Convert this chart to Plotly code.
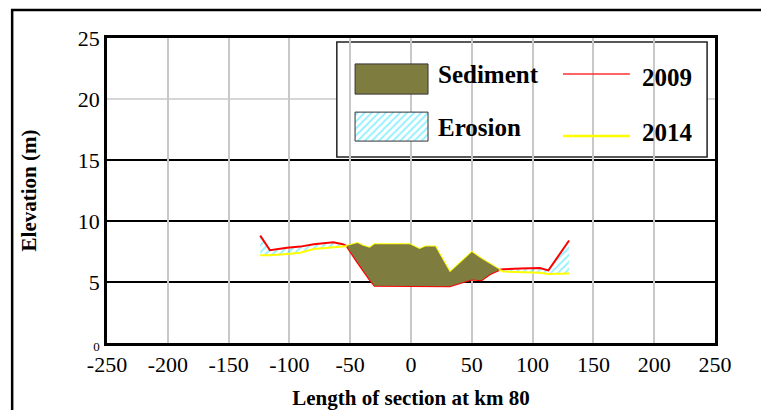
import plotly.graph_objects as go

# Cross-section stations (m from centreline) and bed elevations (m)
station = [-124, -116, -102, -91, -80, -64, -56, -53, -44, -40, -34, -30, -1, 7, 12, 20,
           32, 43, 50, 58, 65, 73, 76, 90, 106, 113, 130]
elev_2009 = [8.8, 7.6, 7.8, 7.9, 8.1, 8.25, 8.1, 7.95, 6.6, 6.0, 5.2, 4.7, 4.65, 4.65, 4.65, 4.65,
             4.65, 5.0, 5.2, 5.15, 5.65, 6.0, 6.05, 6.1, 6.15, 5.95, 8.4]
elev_2014 = [7.2, 7.2, 7.3, 7.4, 7.7, 7.8, 7.9, 7.95, 8.2, 8.0, 7.8, 8.1, 8.1, 7.7, 7.9, 7.9,
             5.8, 6.8, 7.45, 6.9, 6.45, 6.0, 5.85, 5.8, 5.75, 5.65, 5.7]

x_ticks = [-250, -200, -150, -100, -50, 0, 50, 100, 150, 200, 250]
y_ticks = [0, 5, 10, 15, 20, 25]
dark_grid = [5, 10, 15]
light_grid = [20]

SERIF = "Liberation Serif"
OLIVE = "#7f7c40"
CYAN = "#1fe3ff"


def runs(mask):
    """Contiguous index ranges where mask is True (inclusive)."""
    out, start = [], None
    for i, m in enumerate(mask):
        if m and start is None:
            start = i
        if not m and start is not None:
            out.append((start, i - 1))
            start = None
    if start is not None:
        out.append((start, len(mask) - 1))
    return out


fig = go.Figure()

# Erosion: 2014 bed below 2009 bed
erosion_mask = [b <= a for a, b in zip(elev_2009, elev_2014)]
for s, e in runs(erosion_mask):
    xs = station[s:e + 1]
    fig.add_trace(go.Scatter(x=xs, y=elev_2014[s:e + 1], mode="lines",
                             line=dict(width=0), showlegend=False, hoverinfo="skip"))
    fig.add_trace(go.Scatter(x=xs, y=elev_2009[s:e + 1], mode="lines", fill="tonexty",
                             line=dict(width=0), fillcolor="rgba(0,0,0,0)",
                             fillpattern=dict(shape="/", fgcolor=CYAN, bgcolor="rgba(0,0,0,0)",
                                              size=5, solidity=0.35),
                             showlegend=False, hoverinfo="skip"))

# Bed profiles
fig.add_trace(go.Scatter(x=station, y=elev_2009, mode="lines", name="2009",
                         line=dict(color="#ff0000", width=2), showlegend=False))
fig.add_trace(go.Scatter(x=station, y=elev_2014, mode="lines", name="2014",
                         line=dict(color="#ffff00", width=2), showlegend=False))

# Sediment: 2014 bed above 2009 bed
sediment_mask = [b >= a for a, b in zip(elev_2009, elev_2014)]
for s, e in runs(sediment_mask):
    xs = station[s:e + 1]
    if len(xs) < 2:
        continue
    fig.add_trace(go.Scatter(x=xs, y=elev_2009[s:e + 1], mode="lines",
                             line=dict(width=0), showlegend=False, hoverinfo="skip"))
    fig.add_trace(go.Scatter(x=xs, y=elev_2014[s:e + 1], mode="lines", fill="tonexty",
                             line=dict(width=0), fillcolor=OLIVE,
                             showlegend=False, hoverinfo="skip"))

# Legend drawn on an overlay axis spanning the plot area in 0..1 units
fig.add_trace(go.Scatter(x=[0.408, 0.528, 0.528, 0.408, 0.408],
                         y=[0.662, 0.662, 0.757, 0.757, 0.662],
                         xaxis="x2", yaxis="y2", mode="lines", fill="toself",
                         fillcolor="rgba(0,0,0,0)",
                         fillpattern=dict(shape="/", fgcolor=CYAN, bgcolor="white",
                                          size=5, solidity=0.35),
                         line=dict(color="#333333", width=1),
                         showlegend=False, hoverinfo="skip"))
fig.add_trace(go.Scatter(x=[0.750, 0.860], y=[0.882, 0.882], xaxis="x2", yaxis="y2",
                         mode="lines", line=dict(color="#ff3030", width=1.5),
                         showlegend=False, hoverinfo="skip"))
fig.add_trace(go.Scatter(x=[0.750, 0.860], y=[0.679, 0.679], xaxis="x2", yaxis="y2",
                         mode="lines", line=dict(color="#ffff00", width=2.5),
                         showlegend=False, hoverinfo="skip"))

shapes = []
# horizontal grid: dark at 5/10/15, light at 20
for yv in dark_grid:
    shapes.append(dict(type="line", xref="paper", yref="y", x0=0, x1=1, y0=yv, y1=yv,
                       line=dict(color="black", width=2), layer="between"))
for yv in light_grid:
    shapes.append(dict(type="line", xref="paper", yref="y", x0=0, x1=1, y0=yv, y1=yv,
                       line=dict(color="#c8c8c8", width=1.5), layer="between"))
# legend box
shapes.append(dict(type="rect", xref="paper", yref="paper", x0=0.378, x1=0.987,
                   y0=0.610, y1=0.987, fillcolor="white",
                   line=dict(color="#222222", width=1.5), layer="between"))
shapes.append(dict(type="rect", xref="paper", yref="paper", x0=0.408, x1=0.528,
                   y0=0.816, y1=0.915, fillcolor=OLIVE,
                   line=dict(color="#333333", width=1), layer="above"))
# outer frame
shapes.append(dict(type="rect", xref="paper", yref="paper", x0=-0.156, x1=1.3,
                   y0=-0.5, y1=1.092, line=dict(color="black", width=2.5),
                   fillcolor="rgba(0,0,0,0)", layer="above"))

legend_font = dict(family=SERIF, size=25, color="black")
annotations = [
    dict(text="<b>Sediment</b>", x=0.541, y=0.879, xref="paper", yref="paper",
         xanchor="left", yanchor="middle", showarrow=False, font=legend_font),
    dict(text="<b>Erosion</b>", x=0.541, y=0.705, xref="paper", yref="paper",
         xanchor="left", yanchor="middle", showarrow=False, font=legend_font),
    dict(text="<b>2009</b>", x=0.877, y=0.872, xref="paper", yref="paper",
         xanchor="left", yanchor="middle", showarrow=False, font=legend_font),
    dict(text="<b>2014</b>", x=0.877, y=0.689, xref="paper", yref="paper",
         xanchor="left", yanchor="middle", showarrow=False, font=legend_font),
]

y_ticktext = [("<span style='font-size:13px'>%d</span>" % v) if v == 0 else str(v)
              for v in y_ticks]

fig.update_layout(
    width=761, height=410,
    margin=dict(l=107, r=46, t=38, b=67),
    paper_bgcolor="white", plot_bgcolor="white",
    font=dict(family=SERIF, color="black"),
    showlegend=False,
    shapes=shapes, annotations=annotations,
    xaxis=dict(range=[-250, 250], tickvals=x_ticks, ticktext=[str(v) for v in x_ticks],
               showgrid=True, gridcolor="#c8c8c8", gridwidth=1.5, zeroline=False,
               showline=True, linecolor="black", linewidth=2.5, mirror=True,
               ticks="", automargin=False,
               tickfont=dict(family=SERIF, size=22, color="black"),
               title=dict(text="<b>Length of section at km 80</b>", standoff=16,
                          font=dict(family=SERIF, size=21, color="black"))),
    yaxis=dict(range=[0, 25], tickvals=y_ticks, ticktext=y_ticktext,
               showgrid=False, zeroline=False,
               showline=True, linecolor="black", linewidth=2.5, mirror=True,
               ticks="", automargin=False,
               tickfont=dict(family=SERIF, size=22, color="black"),
               title=dict(text="<b>Elevation (m)</b>", standoff=36,
                          font=dict(family=SERIF, size=21, color="black"))),
    xaxis2=dict(overlaying="x", range=[0, 1], visible=False, fixedrange=True),
    yaxis2=dict(overlaying="y", range=[0, 1], visible=False, fixedrange=True),
)

fig.write_html("out.html")
